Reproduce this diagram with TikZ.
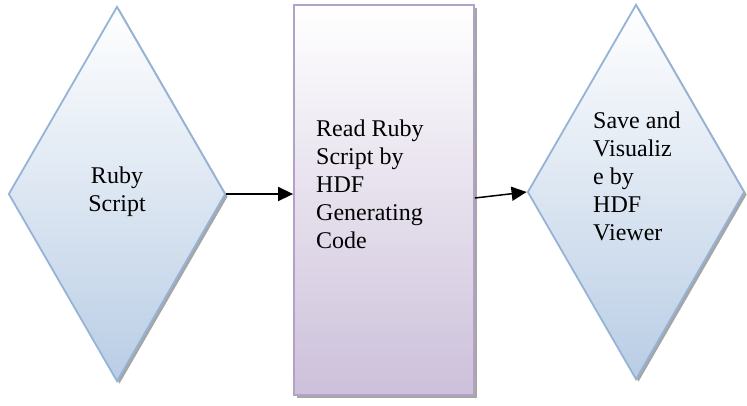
\documentclass[tikz,border=0pt]{standalone}
\usepackage{fontspec}
\setmainfont{Liberation Serif}
\usepackage{tikz}
\usetikzlibrary{arrows.meta,shapes.geometric,shadows,calc}
\definecolor{diaLine}{HTML}{95B3D7}
\definecolor{diaFill}{HTML}{B9CDE5}
\definecolor{boxLine}{HTML}{B3A2C7}
\definecolor{boxFill}{HTML}{CCC0DA}
\tikzset{
  flowdia/.style={diamond, draw=diaLine, line width=1.8pt, inner sep=0pt,
    top color=white, bottom color=diaFill,
    minimum width=217pt, minimum height=375pt,
    drop shadow={shadow xshift=2.5pt, shadow yshift=-2.5pt, fill=black!35, opacity=1}},
  flowbox/.style={rectangle, draw=boxLine, line width=1.8pt, inner sep=0pt,
    top color=white, bottom color=boxFill,
    minimum width=180pt, minimum height=390pt,
    drop shadow={shadow xshift=2.5pt, shadow yshift=-2.5pt, fill=black!35, opacity=1}},
  flowtxt/.style={inner sep=0pt, font=\fontsize{24}{28}\selectfont},
  flowarr/.style={line width=1.5pt, -{Triangle[length=15pt,width=14pt]}}
}
\begin{document}
\begin{tikzpicture}[x=1pt,y=-1pt]
\useasboundingbox (0,0) rectangle (747,405);
\node[flowdia] (ruby) at (117,194) {};
\node[flowbox] (code) at (384,200) {};
\node[flowdia] (view) at (636,192) {};
\node[flowtxt, align=center] (rubytxt) at ($(ruby)+(0,-2)$) {Ruby\\Script};
\node[flowtxt, align=left, anchor=north west] (codetxt) at (316,120)
  {Read Ruby\\Script by\\HDF\\Generating\\Code};
\node[flowtxt, align=left, anchor=north west] (viewtxt) at (593,112)
  {Save and\\Visualiz\\e by\\HDF\\Viewer};
\draw[flowarr] (ruby.east) -- (code.west |- ruby.east);
\draw[flowarr] ($(code.east)+(0,-2)$) -- (view.west);
\end{tikzpicture}
\end{document}
